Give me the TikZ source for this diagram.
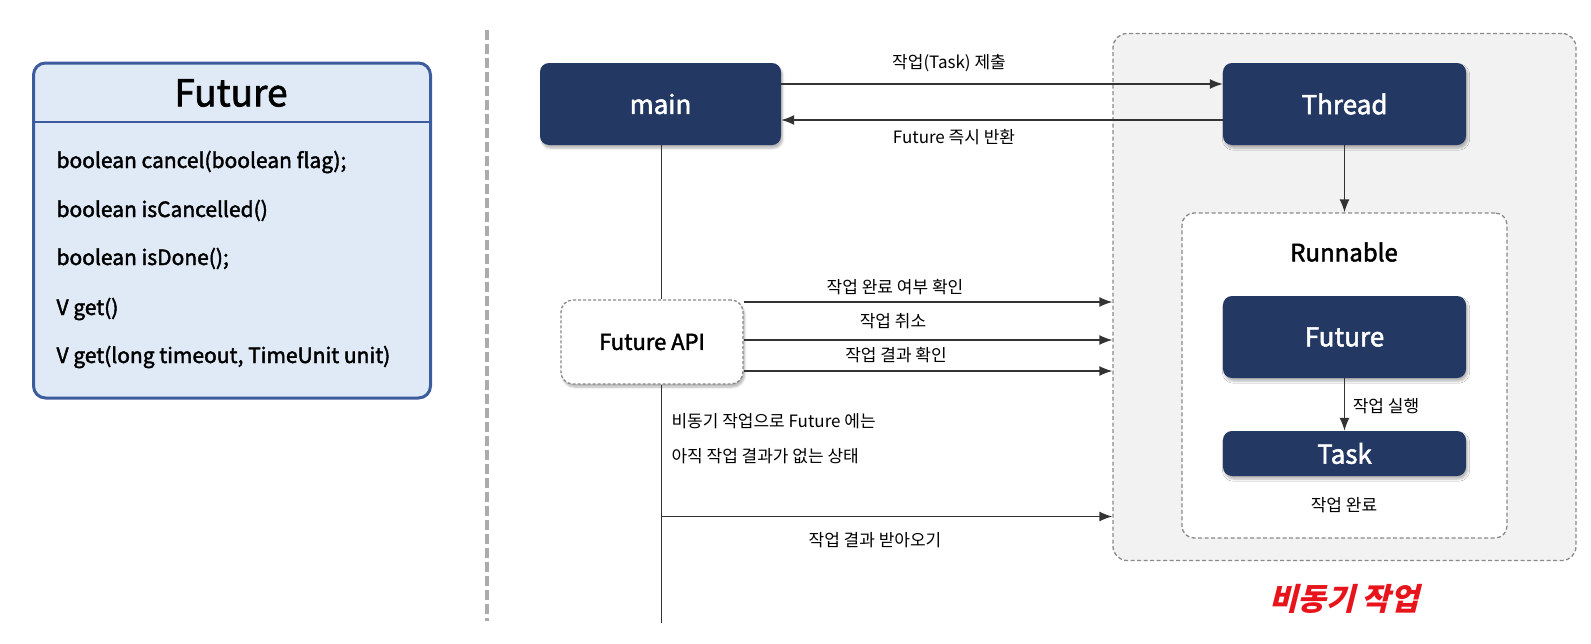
\documentclass[tikz,border=0pt]{standalone}
\usepackage{fontspec}
\setmainfont{Noto Sans CJK KR}
\newfontfamily\krsl[FakeSlant=0.25]{Noto Sans CJK KR}
\newfontfamily\krmed[FakeBold=2]{Noto Sans CJK KR}
\usetikzlibrary{arrows.meta,shadows.blur,positioning}
\definecolor{navy}{HTML}{233862}
\definecolor{boxblue}{HTML}{DFEAF6}
\definecolor{boxedge}{HTML}{3D5C9E}
\definecolor{outergray}{HTML}{F2F2F2}
\definecolor{dashgray}{HTML}{8A8A8A}
\definecolor{linegray}{HTML}{333333}
\definecolor{redtxt}{HTML}{E8141B}
\tikzset{
  darkbox/.style={draw=none, fill=navy, rounded corners=9pt, text=white,
    font=\krmed\fontsize{26}{30}\selectfont,
    blur shadow={shadow blur steps=6, shadow xshift=1.5pt, shadow yshift=-3pt, shadow opacity=30}},
  dashbox/.style={draw=dashgray, line width=1.3pt, dash pattern=on 4pt off 2.5pt, rounded corners=14pt},
  arr/.style={draw=linegray, line width=1.3pt, -{Latex[length=13pt,width=10pt]}},
  lbl/.style={font=\fontsize{17}{20}\selectfont, text=black},
  meth/.style={anchor=base west, font=\krmed\fontsize{21}{25}\selectfont, text=black},
}
\begin{document}
\begin{tikzpicture}[x=1pt,y=-1pt]
\useasboundingbox (0,0) rectangle (1591,643);
% left class box
\node[draw=boxedge, line width=3pt, fill=boxblue, rounded corners=12pt,
  minimum width=397pt, minimum height=335pt] (cls) at (232,230.5) {};
\draw[draw=boxedge, line width=1.5pt] (cls.west |- 0,122) coordinate (dl) -- (cls.east |- dl);
\node[font=\krmed\fontsize{37}{40}\selectfont] (ttl) at (231,93) {Future};
\node[meth] (m1) at (53,168) {boolean cancel(boolean flag);};
\node[meth] (m2) at (53,217) {boolean isCancelled()};
\node[meth] (m3) at (53,265) {boolean isDone();};
\node[meth] (m4) at (53,315) {V get()};
\node[meth] (m5) at (53,363) {V get(long timeout, TimeUnit unit)};
% divider
\coordinate (dtop) at (487,30);
\coordinate (dbot) at (487,621);
\draw[draw=black!33, line width=4pt, dash pattern=on 10pt off 4pt] (dtop) -- (dbot);
% outer async box
\node[dashbox, fill=outergray, minimum width=463pt, minimum height=527pt] (outer) at (1344.5,297) {};
\node[dashbox, fill=white, rounded corners=12pt, minimum width=325pt, minimum height=325pt] (run) at (1344.5,375.5) {};
% nodes
\node[darkbox, minimum width=241pt, minimum height=82pt] (main) at (660.5,104) {main};
\node[darkbox, minimum width=243pt, minimum height=82pt] (thread) at (1344.5,104) {Thread};
\node[darkbox, minimum width=243pt, minimum height=82pt] (fut) at (1344.5,337) {Future};
\node[darkbox, minimum width=243pt, minimum height=45pt] (task) at (1344.5,453.5) {Task};
\node[font=\krmed\fontsize{24}{28}\selectfont] (runlbl) at (1344,252) {Runnable};
\node[lbl] (donelbl) at (1344,505) {작업 완료};
\node[font=\krsl\bfseries\fontsize{31}{34}\selectfont, text=redtxt] (async) at (1344,599) {비동기 작업};
% Future API
\node[draw=dashgray, line width=1.3pt, dash pattern=on 3pt off 2pt, fill=white, rounded corners=12pt,
  minimum width=182pt, minimum height=84pt, font=\krmed\fontsize{22}{26}\selectfont,
  blur shadow={shadow blur steps=6, shadow xshift=1.5pt, shadow yshift=-3pt, shadow opacity=30}] (api) at (652,342) {Future API};
% lifeline
\coordinate (lifebot) at (661.5,623);
\coordinate (y5) at (0,516.5);
\draw[draw=linegray, line width=1.3pt] (main.south -| lifebot) -- (api.north -| lifebot);
\draw[draw=linegray, line width=1.3pt] (api.south -| lifebot) -- (lifebot);
% main <-> thread
\coordinate (y1) at (0,84);
\coordinate (y2) at (0,120);
\draw[arr] (main.east |- y1) -- (thread.west |- y1);
\draw[arr] (thread.west |- y2) -- (main.east |- y2);
\node[lbl] (l1) at (949,63) {작업(Task) 제출};
\node[lbl] (l2) at (954,137) {Future 즉시 반환};
% thread -> runnable
\draw[arr] (thread.south) -- (run.north);
\draw[arr] (fut.south) -- (task.north);
\node[lbl] (l3) at (1386,406) {작업 실행};
% api arrows
\coordinate (a1) at (0,302);
\coordinate (a2) at (0,340);
\coordinate (a3) at (0,371);
\draw[arr] (api.east |- a1) -- (outer.west |- a1);
\draw[arr] (api.east |- a2) -- (outer.west |- a2);
\draw[arr] (api.east |- a3) -- (outer.west |- a3);
\node[lbl] (l4) at (895,287) {작업 완료 여부 확인};
\node[lbl] (l5) at (893,321) {작업 취소};
\node[lbl] (l6) at (896,355) {작업 결과 확인};
\node[lbl, anchor=west] (t1) at (668,421) {비동기 작업으로 Future 에는};
\node[lbl, anchor=west] (t2) at (668,456) {아직 작업 결과가 없는 상태};
\draw[arr] (lifebot |- y5) -- (outer.west |- y5);
\node[lbl] (l7) at (875,540) {작업 결과 받아오기};
\end{tikzpicture}
\end{document}
